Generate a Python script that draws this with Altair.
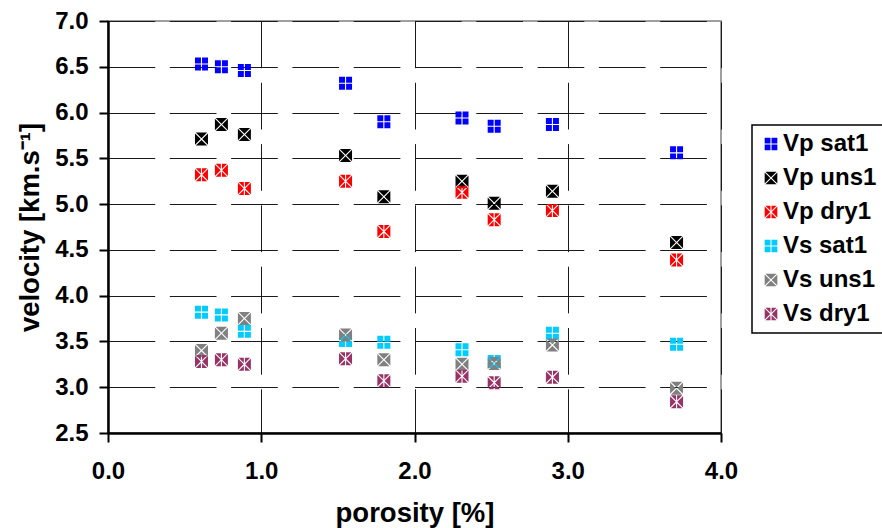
import math

import altair as alt
import pandas as pd

# Porosity of each sample [%]
porosity = [0.61, 0.74, 0.89, 1.55, 1.80, 2.31, 2.52, 2.90, 3.71]

# Velocities [km/s] per measurement series
vp_sat1 = [6.53, 6.50, 6.46, 6.32, 5.90, 5.94, 5.85, 5.87, 5.56]
vp_uns1 = [5.71, 5.87, 5.76, 5.53, 5.08, 5.25, 5.01, 5.14, 4.58]
vp_dry1 = [5.32, 5.37, 5.17, 5.25, 4.70, 5.13, 4.83, 4.93, 4.39]
vs_sat1 = [3.82, 3.79, 3.61, 3.51, 3.49, 3.41, 3.28, 3.59, 3.47]
vs_uns1 = [3.40, 3.59, 3.75, 3.57, 3.30, 3.25, 3.26, 3.46, 2.99]
vs_dry1 = [3.28, 3.30, 3.25, 3.31, 3.07, 3.12, 3.05, 3.11, 2.84]

series_names = ["Vp sat1", "Vp uns1", "Vp dry1", "Vs sat1", "Vs uns1", "Vs dry1"]
series_values = [vp_sat1, vp_uns1, vp_dry1, vs_sat1, vs_uns1, vs_dry1]
series_colors = ["#0000FF", "#000000", "#FF0000", "#00CCFF", "#808080", "#993366"]

y_ticks = [2.5, 3.0, 3.5, 4.0, 4.5, 5.0, 5.5, 6.0, 6.5, 7.0]
x_ticks = [0.0, 1.0, 2.0, 3.0, 4.0]


# Square markers cut by thin white lines (drawn as gaps between filled pieces)
def _poly(pts):
    return "M" + "L".join(f"{x:.3f},{y:.3f}" for x, y in pts) + "Z"


g = 0.085            # half width of a white line, in unit symbol coordinates
d = g * math.sqrt(2)

plus_path = "".join([
    _poly([(-1, -1), (-g, -1), (-g, -g), (-1, -g)]),
    _poly([(g, -1), (1, -1), (1, -g), (g, -g)]),
    _poly([(-1, g), (-g, g), (-g, 1), (-1, 1)]),
    _poly([(g, g), (1, g), (1, 1), (g, 1)]),
])
cross_path = "".join([
    _poly([(-1 + d, -1), (1 - d, -1), (0, -d)]),
    _poly([(-1 + d, 1), (1 - d, 1), (0, d)]),
    _poly([(-1, -1 + d), (-1, 1 - d), (-d, 0)]),
    _poly([(1, -1 + d), (1, 1 - d), (d, 0)]),
])
star_path = "".join([
    _poly([(-1 + d, -1), (-g, -1), (-g, -g - d)]),
    _poly([(g, -1), (1 - d, -1), (g, -g - d)]),
    _poly([(-1 + d, 1), (-g, 1), (-g, g + d)]),
    _poly([(g, 1), (1 - d, 1), (g, g + d)]),
    _poly([(-1, -1 + d), (-1, 1 - d), (-d, 0)]),
    _poly([(1, -1 + d), (1, 1 - d), (d, 0)]),
])
series_shapes = [plus_path, cross_path, star_path, plus_path, cross_path, star_path]

rows = []
for name, values in zip(series_names, series_values):
    for p, v in zip(porosity, values):
        rows.append({"porosity": p, "velocity": v, "series": name})
df = pd.DataFrame(rows)

FONT = "Liberation Sans"

legend = alt.Legend(
    title=None,
    orient="none",
    legendX=644,
    legendY=104,
    fillColor="white",
    strokeColor="black",
    padding=7,
    rowPadding=10,
    labelOffset=0,
    symbolSize=160,
    symbolStrokeWidth=0,
    symbolOpacity=1,
    labelFont=FONT,
    labelFontSize=24,
    labelFontWeight="bold",
    labelColor="black",
)

chart = (
    alt.Chart(df)
    .mark_point(filled=True, size=169, opacity=1, strokeWidth=0)
    .encode(
        x=alt.X(
            "porosity:Q",
            scale=alt.Scale(domain=[0, 4], nice=False, zero=False),
            axis=alt.Axis(
                values=x_ticks,
                format=".1f",
                title="porosity [%]",
                labelPadding=17,
                titleY=88,
                titleBaseline="alphabetic",
            ),
        ),
        y=alt.Y(
            "velocity:Q",
            scale=alt.Scale(domain=[2.5, 7.0], nice=False, zero=False),
            axis=alt.Axis(
                values=y_ticks,
                format=".1f",
                title="velocity [km.s\u207b\u00b9]",
                labelPadding=11,
                titleX=-78,
                titleBaseline="middle",
            ),
        ),
        color=alt.Color(
            "series:N",
            scale=alt.Scale(domain=series_names, range=series_colors),
            legend=legend,
        ),
        shape=alt.Shape(
            "series:N",
            scale=alt.Scale(domain=series_names, range=series_shapes),
            legend=legend,
        ),
    )
    .properties(
        width=613,
        height=412,
        autosize=alt.AutoSizeParams(type="none"),
        padding={"left": 108, "top": 21, "right": 161, "bottom": 95},
        background="white",
    )
    .configure_view(stroke="#808080", strokeWidth=1.5)
    .configure_legend(strokeWidth=1.5)
    .configure_axis(
        domainColor="black",
        domainWidth=2.5,
        tickColor="black",
        tickWidth=2,
        tickSize=9,
        labelFlush=False,
        labelFont=FONT,
        labelFontSize=24,
        labelFontWeight="bold",
        labelColor="black",
        titleFont=FONT,
        titleFontSize=27.5,
        titleFontWeight="bold",
        titleColor="black",
        gridColor="#1a1a1a",
        gridWidth=1,
        gridDash=[46.7, 14.6],
    )
)

chart.save("out.html", embed_options={"renderer": "svg", "actions": False})
